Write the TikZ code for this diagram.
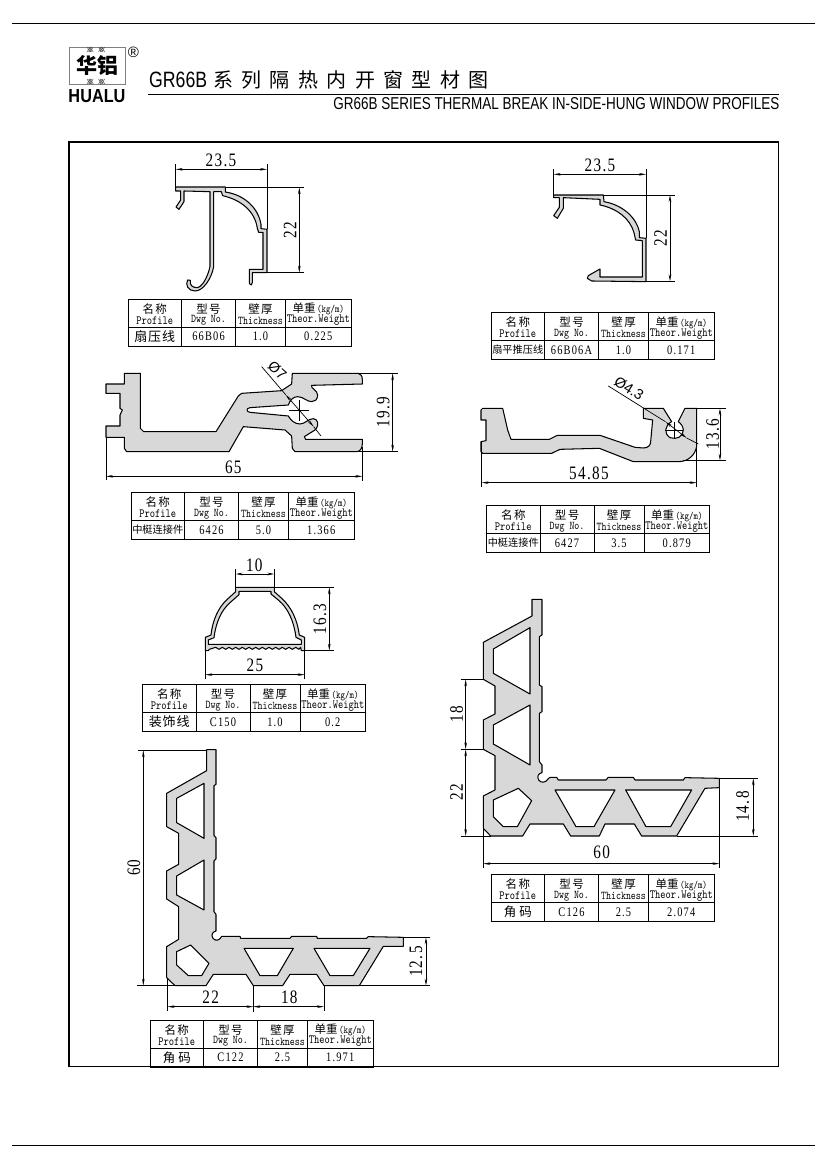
\documentclass[tikz,border=0pt]{standalone}
\usepackage{fontspec}
\usepackage{graphicx}
\usetikzlibrary{arrows.meta}
\setmainfont{Liberation Sans}
\newfontfamily\cjkf{Noto Sans CJK SC}
\newfontfamily\titlecjk[LetterSpace=42]{Noto Sans CJK SC}
\newfontfamily\dimf[LetterSpace=7,FakeStretch=0.8]{Liberation Serif}
\newfontfamily\valf[LetterSpace=9,FakeStretch=0.8]{Liberation Serif}
\definecolor{profgray}{HTML}{D8D8D8}
\tikzset{
  profile/.style={draw=black,fill=profgray,line width=1.05pt,even odd rule,line join=round},
  dimline/.style={draw=black,line width=.7pt},
  dimarrow/.style={dimline,{Stealth[length=7pt,width=2.6pt]}-{Stealth[length=7pt,width=2.6pt]}},
  dimlabel/.style={inner sep=0pt,font=\dimf\fontsize{19}{19}\selectfont},
  dimrot/.style={dimlabel,rotate=90},
  dialabel/.style={inner sep=0pt,font=\fontsize{14.5}{14.5}\selectfont},
  cell/.style={inner sep=0pt,anchor=center},
  tabrule/.style={draw=black,line width=.95pt},
}
\newcommand\monot[2][9.5]{\scalebox{1}[1.25]{\ttfamily\fontsize{#1}{#1}\selectfont #2}}
\newcommand\cjkt[2][12]{{\cjkf\fontsize{#1}{#1}\selectfont #2}}
\newcommand\valt[1]{{\valf\fontsize{13}{13}\selectfont #1}}
\newcommand\ptable[7]{%
 \begin{scope}[shift={(#2,#3)}]
  \draw[tabrule] (0,0) rectangle (223,47);
  \draw[tabrule] (0,28)--(223,28) (53.5,0)--(53.5,47) (107.5,0)--(107.5,47) (157.5,0)--(157.5,47);
  \node[cell] (#1a) at (26.75,10) {\cjkt[11.5]{名\hspace{1.5pt}称}};
  \node[cell] (#1b) at (26.75,21.5) {\monot[10]{Profile}};
  \node[cell] (#1c) at (80.5,10) {\cjkt[11.5]{型\hspace{1.5pt}号}};
  \node[cell] (#1d) at (80.5,21.5) {\monot{Dwg No.}};
  \node[cell] (#1e) at (132.5,10) {\cjkt[11.5]{壁\hspace{1.5pt}厚}};
  \node[cell] (#1f) at (132.5,21.5) {\monot{Thickness}};
  \node[cell] (#1g) at (190.25,10) {\cjkt[11.5]{单重}\,\monot[8.5]{(kg/m)}};
  \node[cell] (#1h) at (190.25,21.5) {\monot[10]{Theor.Weight}};
  \node[cell] (#1i) at (26.75,37.5) {#4};
  \node[cell] (#1j) at (80.5,37.5) {\valt{#5}};
  \node[cell] (#1k) at (132.5,37.5) {\valt{#6}};
  \node[cell] (#1l) at (190.25,37.5) {\valt{#7}};
 \end{scope}}
\begin{document}
\begin{tikzpicture}[x=1pt,y=-1pt]
\path[use as bounding box,fill=white] (0,0) rectangle (827,1169);
% page rules and frame
\draw[line width=.9pt] (12,23.7)--(815,23.7);
\draw[line width=.9pt] (12,1145.7)--(815,1145.7);
\draw[line width=1.05pt] (69,142) rectangle (778.5,1066.7);
% logo
\draw[gray,line width=.7pt] (69,47) rectangle (125,84);
\foreach \xx in {87,98.5}{
  \foreach \dd in {0,1.6,3.2}{
  \draw[black!70,line width=.5pt] (\xx+\dd,47)..controls (\xx+\dd+1,50) and (\xx+\dd+2,50) .. (\xx+\dd+3,52);
  \draw[black!70,line width=.5pt] (\xx+\dd+3,47)..controls (\xx+\dd+2,50) and (\xx+\dd+1,50) .. (\xx+\dd,52);
  \draw[black!70,line width=.5pt] (\xx+\dd,84)..controls (\xx+\dd+1,81) and (\xx+\dd+2,81) .. (\xx+\dd+3,79);
  \draw[black!70,line width=.5pt] (\xx+\dd+3,84)..controls (\xx+\dd+2,81) and (\xx+\dd+1,81) .. (\xx+\dd,79);
  }
}
\node[inner sep=0pt] (logocjk) at (97,66) {\cjkf\fontsize{21}{21}\selectfont\textbf{华铝}};
\node[inner sep=0pt] (logoen) at (97,96.5) {\resizebox{57pt}{13pt}{\bfseries HUALU}};
\node[inner sep=0pt] (logor) at (133.5,52.5) {\fontsize{15}{15}\selectfont ®};
% title
\node[inner sep=0pt,anchor=west] (title1) at (149,80) {\resizebox{58pt}{15.5pt}{GR66B}};
\node[inner sep=0pt,anchor=west] (title2) at (213,80) {\titlecjk\fontsize{20}{20}\selectfont 系列隔热内开窗型材图};
\draw[line width=1pt] (148,94.5)--(779,94.5);
\node[inner sep=0pt,anchor=east] (title3) at (779.5,104) {\resizebox{446pt}{12pt}{GR66B SERIES THERMAL BREAK IN-SIDE-HUNG WINDOW PROFILES}};
% ---------- profile 1
\begin{scope}[shift={(120,145)},x=.3333pt,y=-.3333pt]
\draw[profile] (167,126)--(316,126)--(316,141)..controls (375,150) and (415,190) .. (423,238)--(423,251)--(441,253)--(441,383)--(397,383)--(397,412)--(394,420)--(388,416)--(388,373)--(429,373)--(429,262)--(416,262)--(412,250)..controls (405,200) and (365,165) .. (308,152)--(304,140)--(281,140)--(281,365)..controls (275,400) and (250,438) .. (225,438)..controls (205,438) and (195,420) .. (203,405)--(211,406)..controls (208,420) and (218,428) .. (230,428)..controls (245,428) and (262,400) .. (270,365)--(270,140)--(192,138)--(192,170)--(177,193)--(168,186)--(182,165)--(182,138)--(167,138)--cycle;
\draw[dimline] (167,58)--(167,126) (441,58)--(441,253) (316,127)--(553,127) (441,383)--(553,383);
\draw[dimarrow] (167,73)--(441,73);
\draw[dimarrow] (538,127)--(538,383);
\node[dimlabel] (a1) at (303,47) {23.5};
\node[dimrot] (a2) at (510,255) {22};
\end{scope}
\ptable{ta}{128}{299}{\cjkt[13]{扇\hspace{1pt}压\hspace{1pt}线}}{66B06}{1.0}{0.225}
% ---------- profile 2
\begin{scope}[shift={(480,150)},x=.3333pt,y=-.3333pt]
\draw[profile] (221,135)--(370,135)--(372,155)..controls (430,165) and (470,205) .. (478,245)--(478,263)--(498,265)--(498,395)--(335,393)--(322,385)--(325,377)--(360,357)--(360,381)--(487,381)--(487,272)--(467,270)--(462,248)..controls (450,205) and (410,175) .. (360,165)--(360,148)--(250,143)--(250,175)--(232,205)--(221,197)--(238,172)--(238,143)--(221,143)--cycle;
\fill[black!75] (221,135) rectangle (360,139);
\draw[dimline] (221,58)--(221,135) (498,58)--(498,265) (370,135)--(585,135) (498,394)--(585,394);
\draw[dimarrow] (221,73)--(498,73);
\draw[dimarrow] (570,135)--(570,394);
\node[dimlabel] (b1) at (360,47) {23.5};
\node[dimrot] (b2) at (542,265) {22};
\end{scope}
\ptable{tb}{491}{312.5}{\cjkt[10.2]{扇平推压线}}{66B06A}{1.0}{0.171}
% ---------- profile 3
\begin{scope}[shift={(95,360)},x=.3333pt,y=-.3333pt]
\draw[profile] (88,40)--(136,40)--(136,205)--(146,215)--(363,215)--(430,108)--(440,100)--(560,92)--(590,72)--(592,40)--(790,40)..controls (798,42) and (802,48) .. (802,58)--(802,72)--(650,76)..controls (645,85) and (668,90) .. (668,105)..controls (668,120) and (658,125) .. (650,125)..controls (635,125) and (625,110) .. (608,110)..controls (595,110) and (585,120) .. (580,135)--(465,143)..controls (453,145) and (453,155) .. (465,157)--(580,168)..controls (588,182) and (600,192) .. (615,192)..controls (630,192) and (640,176) .. (655,176)..controls (668,176) and (675,195) .. (660,210)--(628,230)--(632,238)--(802,238)--(802,252)..controls (802,265) and (795,275) .. (785,275)--(600,275)--(592,265)--(590,228)--(570,210)--(445,200)--(402,275)--(95,275)--(88,265)--(88,232)--(33,232)--(33,198)--(75,198)--(75,165)--(82,150)--(75,145)--(75,100)--(33,100)--(33,72)--(88,72)--cycle;
\draw[dimline] (582,150)--(642,150) (612,120)--(612,182);
\draw[dimarrow] (572,104)--(656,200);
\draw[dimline] (500,20)--(572,104) (656,200)--(678,228);
\draw[dimline] (790,40)--(910,40) (730,275)--(910,275) (33,232)--(33,360) (802,262)--(802,362);
\draw[dimarrow] (893,40)--(893,275);
\draw[dimarrow] (33,349)--(802,349);
\node[dialabel,rotate=-42] (c1) at (547,32) {Ø7};
\node[dimrot] (c2) at (865,157) {19.9};
\node[dimlabel] (c3) at (415,322) {65};
\end{scope}
\ptable{tc}{131}{492.5}{\cjkt[10.2]{中梃连接件}}{6426}{5.0}{1.366}
% ---------- profile 4
\begin{scope}[shift={(470,370)},x=.3333pt,y=-.3333pt]
\draw[profile] (38,115)--(98,115)--(105,145)--(113,180)--(123,208)--(238,208)--(262,196)--(390,196)--(495,232)--(520,234)..controls (535,234) and (542,225) .. (542,215)--(548,150)--(520,145)--(520,115)--(580,115)--(605,155)..controls (585,165) and (580,190) .. (600,203)..controls (620,210) and (640,200) .. (640,180)..controls (640,170) and (632,160) .. (625,155)--(645,115)--(680,115)--(680,230)..controls (675,255) and (655,275) .. (625,275)--(490,275)--(388,235)--(270,238)--(245,250)--(38,250)--(33,245)--(33,215)--(48,212)--(48,150)--(33,150)--(33,120)--cycle;
\draw[dimline] (585,180)--(640,180) (612,155)--(612,206);
\draw[dimarrow] (586,155)--(650,204);
\draw[dimline] (415,48)--(586,155) (650,204)--(685,222);
\draw[dimline] (680,115)--(768,115) (640,272)--(768,272) (35,215)--(35,352) (680,230)--(680,352);
\draw[dimarrow] (750,115)--(750,272);
\draw[dimarrow] (35,338)--(680,338);
\node[dialabel,rotate=-32] (d1) at (477,55) {Ø4.3};
\node[dimrot] (d2) at (728,192) {13.6};
\node[dimlabel] (d3) at (357,310) {54.85};
\end{scope}
\ptable{td}{486.5}{505.5}{\cjkt[10.2]{中梃连接件}}{6427}{3.5}{0.879}
% ---------- profile 5
\begin{scope}[shift={(140,550)},x=.3333pt,y=-.3333pt]
\draw[profile] (287,112)--(403,112)--(403,125)--(425,145)..controls (455,172) and (472,210) .. (478,255)--(494,262)--(494,302)--(484,302)--(482,292)
  \foreach \zx in {472,452,...,232} { --(\zx+5,298)--(\zx-5,292) }
  --(208,298)--(205,302)--(196,302)--(196,262)--(213,255)..controls (218,210) and (235,172) .. (262,148)--(287,125)--cycle
  (297,124)--(393,124)--(393,132)--(415,150)..controls (445,175) and (462,215) .. (468,262)--(484,270)--(484,283)--(205,283)--(205,270)--(222,263)..controls (228,215) and (245,180) .. (270,158)--(297,134)--cycle;
\draw[dimline] (287,58)--(287,112) (403,58)--(403,112) (403,112)--(583,112) (494,302)--(583,302) (196,302)--(196,388) (494,302)--(494,388);
\draw[dimarrow] (287,72)--(403,72);
\draw[dimarrow] (568,112)--(568,302);
\draw[dimarrow] (196,374)--(494,374);
\node[dimlabel] (e1) at (343,45) {10};
\node[dimrot] (e2) at (540,207) {16.3};
\node[dimlabel] (e3) at (345,347) {25};
\end{scope}
\ptable{te}{142.5}{684.5}{\cjkt[13]{装\hspace{1pt}饰\hspace{1pt}线}}{C150}{1.0}{0.2}
% ---------- profile 6
\begin{scope}[shift={(440,590)},x=.3333pt,y=-.3333pt]
\draw[profile] (276,28)--(306,28)--(306,135)--(298,140)--(298,285)--(306,290)--(306,365)--(298,370)--(298,515)--(306,525)--(306,548)..controls (295,550) and (290,560) .. (296,570)..controls (303,580) and (318,578) .. (323,568)--(330,562)--(350,562)--(355,570)--(498,570)--(505,562)--(580,562)--(585,570)--(730,570)--(735,563)--(838,565)--(838,593)--(795,595)--(710,738)--(605,738)--(583,702)--(495,702)--(478,738)--(392,738)--(370,702)--(270,702)--(248,738)--(152,738)--(130,715)--(130,618)--(165,600)--(165,497)--(130,478)--(130,390)--(165,372)--(165,288)--(130,268)--(130,157)--(276,78)--cycle
 (270,113)--(270,312)--(160,250)--(160,177)--cycle
 (270,345)--(270,525)--(160,462)--(160,405)--cycle
 (235,595)--(275,632)--(232,710)--(190,710)--(160,680)--(160,630)--cycle
 (345,600)--(525,600)--(462,710)--(408,710)--cycle
 (557,600)--(755,600)--(692,710)--(618,710)--cycle;
\draw[dimline] (62,268)--(130,268) (62,478)--(130,478) (62,738)--(152,738) (710,738)--(955,738) (838,565)--(955,565) (130,715)--(130,835) (838,593)--(838,835);
\draw[dimarrow] (77,268)--(77,478);
\draw[dimarrow] (77,478)--(77,738);
\draw[dimarrow] (940,565)--(940,738);
\draw[dimarrow] (130,821)--(838,821);
\node[dimrot] (f1) at (50,372) {18};
\node[dimrot] (f2) at (50,607) {22};
\node[dimrot] (f3) at (908,650) {14.8};
\node[dimlabel] (f4) at (485,788) {60};
\end{scope}
\ptable{tf}{491}{874.5}{\cjkt[12.5]{角\hspace{3pt}码}}{C126}{2.5}{2.074}
% ---------- profile 7
\begin{scope}[shift={(120,745)},x=.3333pt,y=-.3333pt]
\draw[profile] (260,14)--(288,14)--(288,118)--(282,122)--(282,272)--(288,278)--(288,342)--(282,348)--(282,500)--(288,508)--(288,558)..controls (278,560) and (272,570) .. (279,580)..controls (286,590) and (300,586) .. (305,574)--(360,574)--(362,580)--(510,580)--(515,574)--(590,574)--(592,580)--(740,580)--(745,575)--(850,577)--(850,604)--(790,604)--(718,722)--(612,722)--(590,688)--(510,688)--(488,722)--(400,722)--(378,688)--(280,688)--(258,722)--(165,722)--(140,698)--(140,605)--(176,583)--(176,485)--(140,462)--(140,378)--(176,358)--(176,265)--(140,245)--(140,145)--(260,77)--cycle
 (252,115)--(252,280)--(170,233)--(170,160)--cycle
 (252,345)--(252,495)--(170,450)--(170,393)--cycle
 (212,600)--(267,655)--(245,692)--(205,692)--(170,660)--(170,620)--cycle
 (372,610)--(520,610)--(472,692)--(420,692)--cycle
 (582,610)--(750,610)--(700,692)--(630,692)--cycle;
\draw[dimline] (55,16)--(260,16) (52,722)--(165,722) (718,722)--(930,722) (850,577)--(930,577) (143,700)--(143,798) (400,722)--(400,800) (612,722)--(612,798);
\draw[dimarrow] (70,16)--(70,722);
\draw[dimarrow] (918,577)--(918,722);
\draw[dimarrow] (143,785)--(400,785);
\draw[dimarrow] (400,785)--(612,785);
\node[dimrot] (g1) at (42,368) {60};
\node[dimrot] (g2) at (888,650) {12.5};
\node[dimlabel] (g3) at (272,757) {22};
\node[dimlabel] (g4) at (508,757) {18};
\end{scope}
\ptable{tg}{150}{1020}{\cjkt[12.5]{角\hspace{3pt}码}}{C122}{2.5}{1.971}
\end{tikzpicture}
\end{document}
